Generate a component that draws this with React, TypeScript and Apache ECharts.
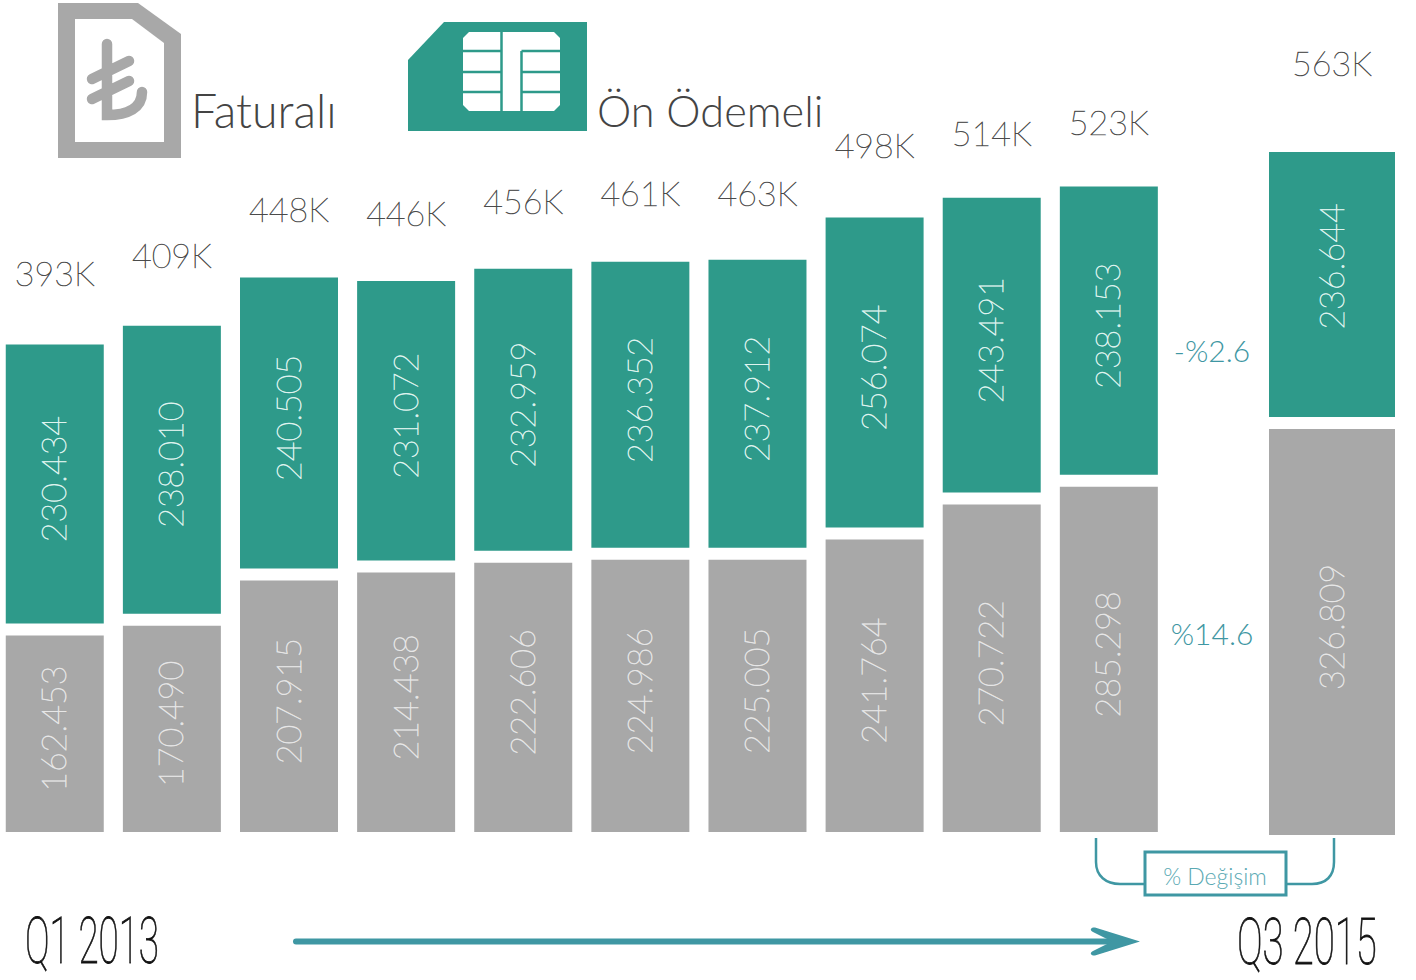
import React, { useEffect, useRef } from "react";
import * as echarts from "echarts";

const quarters = ["Q1 2013","Q2 2013","Q3 2013","Q4 2013","Q1 2014","Q2 2014","Q3 2014","Q4 2014","Q1 2015","Q2 2015"];
const lastQuarter = ["Q3 2015"];
const prepaid = [230434,238010,240505,231072,232959,236352,237912,256074,243491,238153];
const postpaid = [162453,170490,207915,214438,222606,224986,225005,241764,270722,285298];
const totals = ["393K","409K","448K","446K","456K","461K","463K","498K","514K","523K"];
const lastPrepaid = [236644];
const lastPostpaid = [326809];
const lastTotal = ["563K"];
const spacer = 9917;
const totalOffsets = [55,54,52,51,51,52,50,56,48,48];

const SHIFT = 5;
const FONT = "Lato";
const WEIGHT = 100;
const GREEN = "#2e9a8a";
const GRAY = "#a8a8a8";
const TEAL = "#3f97a3";
const fmt = (v: number) => { const s = String(v); return s.slice(0, -3) + "." + s.slice(-3); };

const inLabel = (color: string, up = 5) => ({
  show: true, position: "inside" as const, rotate: 90, offset: [up, -2], color, fontFamily: FONT, fontWeight: WEIGHT, fontSize: 34,
  textBorderColor: color, textBorderWidth: 0.7,
  formatter: (p: any) => fmt(p.value),
});

const hiddenCat = (gridIndex: number, data: string[]) => ({ type: "category" as const, gridIndex, data, show: false });
const hiddenVal = (gridIndex: number, max: number) => ({ type: "value" as const, gridIndex, min: 0, max, show: false });

let registered = false;
function registerShapes() {
  if (registered) return;
  registered = true;
  const reg = (name: string, d: string) => echarts.graphic.registerShape(name, (echarts.graphic as any).extendPath(d, {}));
  reg("lira", "M107 44V115C128 115 142 108 142 92M92 79L129 61M92 99L129 81");
  reg("simLines", "M501.5 32V111M463 51H501.5M463 72H501.5M463 92H501.5M521.5 51V111M521.5 51H560M521.5 72H560M521.5 92H560");
  reg("bracket", "M1096 838V862C1096 876 1106 884 1120 884H1145M1286 884H1312C1326 884 1334 876 1334 862V838");
  reg("arrowHead", "M1140 941.5L1095 927.5C1091 927 1089 930 1093 932L1112 941.5L1093 951C1089 953 1091 956 1095 955.5Z");
}

const totalLabel = (text: string, distance: number) => ({
  show: true, position: "top" as const, distance, formatter: text, color: "#333333", fontFamily: FONT, fontWeight: WEIGHT, fontSize: 34,
  textBorderColor: "#333333", textBorderWidth: 0.7,
});

export default function App() {
  const ref = useRef<HTMLDivElement>(null);
  useEffect(() => {
    registerShapes();
    const chart = echarts.init(ref.current!, undefined, { renderer: "svg" });
    const totalTop = quarters.map((_, i) => postpaid[i] + spacer + prepaid[i]);
    chart.setOption({
      animation: false,
      backgroundColor: "#ffffff",
      grid: [
        { left: 1.2, width: 1171.2, top: 106, height: 726 },
        { left: 1269 + SHIFT, width: 126, top: 429, height: 406 },
        { left: 1269 + SHIFT, width: 126, top: 152, height: 265 },
      ],
      xAxis: [hiddenCat(0, quarters), hiddenCat(1, lastQuarter), hiddenCat(2, lastQuarter)],
      yAxis: [hiddenVal(0, 600000), hiddenVal(1, lastPostpaid[0]), hiddenVal(2, lastPrepaid[0])],
      series: [
        { name: "Faturalı", type: "bar", stack: "a", barWidth: 98, data: postpaid, itemStyle: { color: GRAY }, label: inLabel("#e6e6e6") },
        { name: "spacer", type: "bar", stack: "a", barWidth: 98, data: quarters.map(() => spacer), itemStyle: { color: "transparent" }, silent: true },
        { name: "Ön Ödemeli", type: "bar", stack: "a", barWidth: 98, data: prepaid, itemStyle: { color: GREEN }, label: inLabel("#dff3ee") },
        {
          name: "Toplam", type: "scatter", symbolSize: 0,
          data: totalTop.map((v, i) => ({ value: v, label: totalLabel(totals[i], totalOffsets[i]) })),
        },
        { name: "Faturalı Q3 2015", type: "bar", xAxisIndex: 1, yAxisIndex: 1, barWidth: "100%", data: lastPostpaid, itemStyle: { color: GRAY }, label: inLabel("#e6e6e6") },
        { name: "Ön Ödemeli Q3 2015", type: "bar", xAxisIndex: 2, yAxisIndex: 2, barWidth: "100%", data: lastPrepaid, itemStyle: { color: GREEN }, label: inLabel("#dff3ee", 18) },
        {
          name: "Toplam Q3 2015", type: "scatter", symbolSize: 0, xAxisIndex: 2, yAxisIndex: 2,
          data: [{ value: lastPrepaid[0], label: totalLabel(lastTotal[0], 73) }],
        },
      ],
      graphic: [{
        type: "group", x: SHIFT, y: 0,
        children: [
          { type: "polygon", shape: { points: [[58,3],[138,3],[181,34],[181,158],[58,158]] }, style: { fill: GRAY } },
          { type: "polygon", shape: { points: [[75,19],[132,19],[164,43],[164,142],[75,142]] }, style: { fill: "#fff" } },
          { type: "lira", style: { fill: "none", stroke: GRAY, lineWidth: 10.5, lineCap: "round" } },
          { type: "polygon", shape: { points: [[408,60],[444,22],[587,22],[587,131],[408,131]] }, style: { fill: GREEN } },
          { type: "polygon", shape: { points: [[469,32],[554,32],[560,38],[560,105],[554,111],[469,111],[463,105],[463,38]] }, style: { fill: "#fff" } },
          { type: "simLines", style: { fill: "none", stroke: GREEN, lineWidth: 2.5 } },
          { type: "text", x: 191, y: 110, style: { text: "Faturalı", fill: "#444444", font: `300 46.5px ${FONT}`, verticalAlign: "middle" } },
          { type: "text", x: 597, y: 110, style: { text: "Ön Ödemeli", fill: "#444444", font: `300 43.3px ${FONT}`, verticalAlign: "middle" } },
          { type: "text", x: 1212, y: 350, style: { text: "-%2.6", fill: TEAL, font: `300 30px ${FONT}`, align: "center", verticalAlign: "middle" } },
          { type: "text", x: 1212, y: 633, style: { text: "%14.6", fill: TEAL, font: `300 30px ${FONT}`, align: "center", verticalAlign: "middle" } },
          { type: "bracket", style: { fill: "none", stroke: TEAL, lineWidth: 2.5 } },
          { type: "rect", shape: { x: 1145, y: 852, width: 141, height: 43 }, style: { fill: "#fff", stroke: TEAL, lineWidth: 3 } },
          { type: "text", x: 1215, y: 876, style: { text: "% Değişim", fill: "#5aa9b3", font: `300 23px ${FONT}`, align: "center", verticalAlign: "middle" } },
          { type: "text", x: 25, y: 941, scaleX: 0.92, scaleY: 1.64, style: { text: "Q1 2013", fill: "#111111", stroke: "#111111", lineWidth: 0.5, font: `100 40px Roboto`, verticalAlign: "middle" } },
          { type: "text", x: 1237, y: 941, scaleX: 0.96, scaleY: 1.64, style: { text: "Q3 2015", fill: "#111111", stroke: "#111111", lineWidth: 0.5, font: `100 40px Roboto`, verticalAlign: "middle" } },
          { type: "line", shape: { x1: 296, y1: 941.5, x2: 1115, y2: 941.5 }, style: { stroke: TEAL, lineWidth: 6, lineCap: "round" } },
          { type: "arrowHead", style: { fill: TEAL } },
        ],
      }],
    });
    return () => chart.dispose();
  }, []);
  return <div ref={ref} style={{ position: "absolute", left: -SHIFT, top: 0, width: 1416 + SHIFT, height: 980 }} />;
}
